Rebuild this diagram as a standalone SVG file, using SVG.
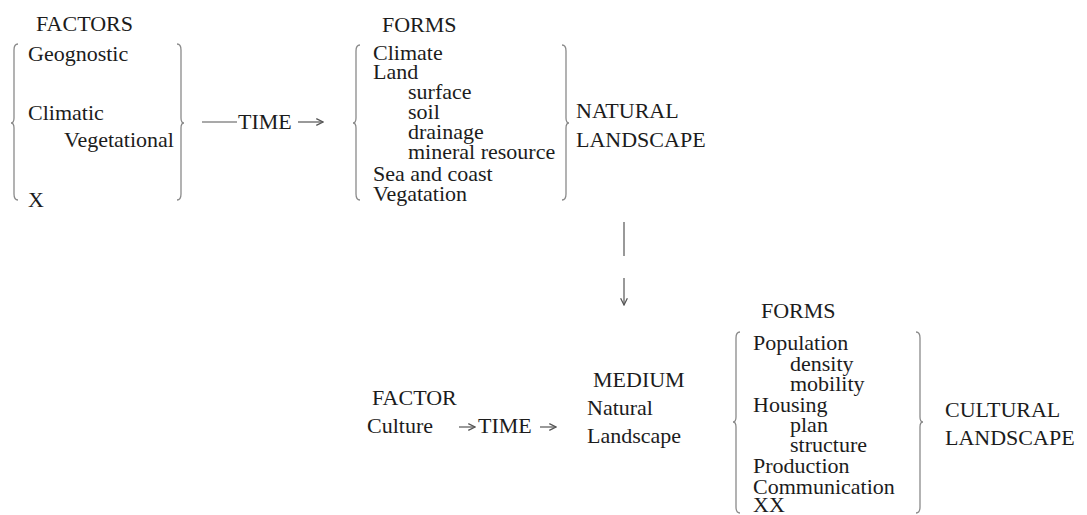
<svg xmlns="http://www.w3.org/2000/svg" width="1087" height="515" viewBox="0 0 1087 515" font-family="'Liberation Serif', 'Times New Roman', serif">
<style>
text{font-family:'Liberation Serif','Times New Roman',serif;font-size:22px;fill:#1c1c1c}
.br{fill:none;stroke:#8a8a8a;stroke-width:1.3}
.ln{fill:none;stroke:#555;stroke-width:1.2}
</style>
<defs>
<marker id="ah" viewBox="0 0 10 10" refX="9" refY="5" markerWidth="7" markerHeight="7" orient="auto">
<path d="M1,1 L9,5 L1,9" fill="none" stroke="#555" stroke-width="1.5"/>
</marker>
</defs>
<rect width="1087" height="515" fill="#fff"/>

<g id="factors">
<text x="36" y="31">FACTORS</text>
<path class="br" d="M18,44 Q14,44 14,50 L14,118 Q14,123 11,123 Q14,123 14,128 L14,194 Q14,200 18,200"/>
<text x="28" y="61">Geognostic</text>
<text x="28" y="120">Climatic</text>
<text x="64" y="147">Vegetational</text>
<text x="28" y="207">X</text>
<path class="br" d="M177,44 Q181,44 181,50 L181,118 Q181,123 184,123 Q181,123 181,128 L181,194 Q181,200 177,200"/>
</g>

<g id="time1"><text x="238" y="129">TIME</text></g>

<g id="forms-natural">
<text x="382" y="32">FORMS</text>
<path class="br" d="M360,45 Q356,45 356,51 L356,118 Q356,123 353,123 Q356,123 356,128 L356,194 Q356,200 360,200"/>
<text x="373" y="60">Climate</text>
<text x="373" y="79">Land</text>
<text x="408" y="99">surface</text>
<text x="408" y="119">soil</text>
<text x="408" y="139">drainage</text>
<text x="408" y="159">mineral resource</text>
<text x="373" y="181">Sea and coast</text>
<text x="373" y="201">Vegatation</text>
<path class="br" d="M562,45 Q566,45 566,51 L566,118 Q566,123 569,123 Q566,123 566,128 L566,194 Q566,200 562,200"/>
<text x="576" y="118">NATURAL</text>
<text x="576" y="147">LANDSCAPE</text>
</g>

<g id="factor-culture">
<text x="372" y="405">FACTOR</text>
<text x="367" y="433">Culture</text>
</g>

<g id="time2"><text x="478" y="433">TIME</text></g>

<g id="medium">
<text x="593" y="387">MEDIUM</text>
<text x="587" y="415">Natural</text>
<text x="587" y="443">Landscape</text>
</g>

<g id="forms-cultural">
<text x="761" y="318">FORMS</text>
<path class="br" d="M740,332 Q736,332 736,338 L736,417 Q736,422 733,422 Q736,422 736,427 L736,507 Q736,513 740,513"/>
<text x="753" y="350">Population</text>
<text x="790" y="371">density</text>
<text x="790" y="391">mobility</text>
<text x="753" y="412">Housing</text>
<text x="790" y="432">plan</text>
<text x="790" y="452">structure</text>
<text x="753" y="473">Production</text>
<text x="753" y="494">Communication</text>
<text x="753" y="512">XX</text>
<path class="br" d="M916,332 Q920,332 920,338 L920,417 Q920,422 923,422 Q920,422 920,427 L920,507 Q920,513 916,513"/>
<text x="945" y="417">CULTURAL</text>
<text x="945" y="445">LANDSCAPE</text>
</g>

<g id="connectors">
<line class="ln" x1="202" y1="122" x2="237" y2="122"/>
<line class="ln" x1="298" y1="122" x2="323" y2="122" marker-end="url(#ah)"/>
<line class="ln" x1="624" y1="222" x2="624" y2="256"/>
<line class="ln" x1="624" y1="278" x2="624" y2="305" marker-end="url(#ah)"/>
<line class="ln" x1="459" y1="427" x2="475" y2="427" marker-end="url(#ah)"/>
<line class="ln" x1="540" y1="427" x2="556" y2="427" marker-end="url(#ah)"/>
</g>
</svg>
